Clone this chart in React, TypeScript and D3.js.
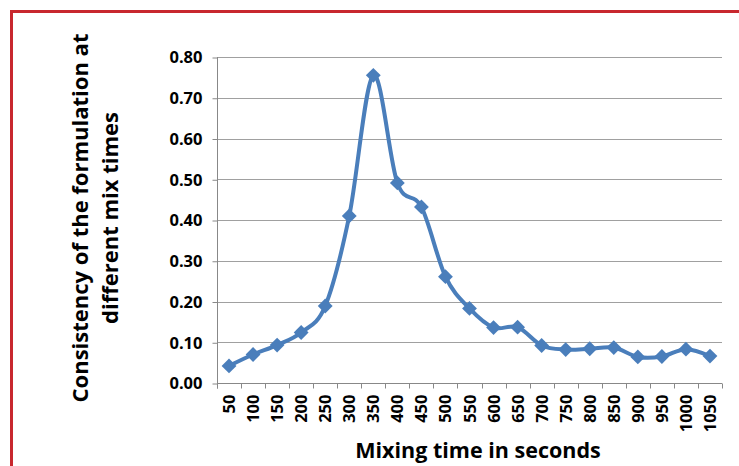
import * as d3 from 'd3';
import { useEffect, useRef } from 'react';

// mixing times (s) and consistency
const mixTimes = ['50', '100', '150', '200', '250', '300', '350', '400', '450', '500', '550',
  '600', '650', '700', '750', '800', '850', '900', '950', '1000', '1050'];
const consistency = [0.042, 0.07, 0.093, 0.124, 0.189, 0.41, 0.755, 0.491, 0.432, 0.261, 0.183,
  0.136, 0.137, 0.092, 0.082, 0.084, 0.087, 0.064, 0.065, 0.083, 0.066];
const yTicks = [0, 0.1, 0.2, 0.3, 0.4, 0.5, 0.6, 0.7, 0.8];
const yTitle = ['Consistency of the formulation at', 'different mix times'];
const xTitle = 'Mixing time in seconds';

const FONT = '"Open Sans", Calibri, sans-serif';
const BLUE = '#4a7ebb';

const App = () => {
  const ref = useRef<SVGSVGElement>(null);

  useEffect(() => {
    const svg = d3.select(ref.current);
    svg.selectAll('*').remove();

    const left = 217, right = 722, top = 57, bottom = 383;

    const x = d3.scaleBand().domain(mixTimes).range([left, right]);
    const y = d3.scaleLinear().domain([0, 0.8]).range([bottom, top]);

    // red frame
    svg.append('rect')
      .attr('x', 11.5).attr('y', 11.5)
      .attr('width', 760).attr('height', 500)
      .attr('fill', 'none')
      .attr('stroke', '#c8282e')
      .attr('stroke-width', 3);

    // gridlines
    svg.append('g')
      .selectAll('line')
      .data(yTicks.slice(1))
      .enter()
      .append('line')
      .attr('x1', left).attr('x2', right)
      .attr('y1', (d) => Math.round(y(d)) + 0.5)
      .attr('y2', (d) => Math.round(y(d)) + 0.5)
      .attr('stroke', '#a0a0a0')
      .attr('stroke-width', 1);

    // y axis
    const yAxis = svg.append('g')
      .attr('transform', 'translate(' + (left + 0.5) + ',0.5)')
      .call(d3.axisLeft(y).tickValues(yTicks).tickFormat(d3.format('.2f')).tickSize(5).tickPadding(10));
    yAxis.select('.domain').attr('stroke', '#888').attr('d', 'M0,' + (top - 0.5) + 'V' + (bottom + 5));
    yAxis.selectAll('.tick line').attr('stroke', '#888');
    yAxis.selectAll('.tick text')
      .attr('font-family', FONT)
      .attr('font-weight', 'bold')
      .attr('font-size', 16.5)
      .attr('fill', '#000');

    // x axis
    const xAxis = svg.append('g')
      .attr('transform', 'translate(0,' + (bottom + 0.5) + ')');
    xAxis.append('line')
      .attr('x1', left).attr('x2', right)
      .attr('stroke', '#888');
    xAxis.selectAll('line.tick')
      .data(mixTimes.concat(['end']))
      .enter()
      .append('line')
      .attr('class', 'tick')
      .attr('x1', (d, i) => Math.round(left + i * x.step()) + 0.5)
      .attr('x2', (d, i) => Math.round(left + i * x.step()) + 0.5)
      .attr('y1', 0).attr('y2', 5)
      .attr('stroke', '#888');
    xAxis.selectAll('text')
      .data(mixTimes)
      .enter()
      .append('text')
      .attr('transform', (d) => 'translate(' + ((x(d) as number) + x.bandwidth() / 2 + 6) + ',11) rotate(-90)')
      .attr('text-anchor', 'end')
      .attr('font-family', FONT)
      .attr('font-weight', 'bold')
      .attr('font-size', 16.5)
      .text((d) => d);

    // line
    const pts = mixTimes.map((m, i) => [(x(m) as number) + x.bandwidth() / 2, y(consistency[i])] as [number, number]);
    svg.append('path')
      .datum(pts)
      .attr('d', d3.line().curve(d3.curveCatmullRom.alpha(0)))
      .attr('fill', 'none')
      .attr('stroke', BLUE)
      .attr('stroke-width', 4)
      .attr('stroke-linejoin', 'round');

    svg.append('g')
      .selectAll('path')
      .data(pts)
      .enter()
      .append('path')
      .attr('transform', (d) => 'translate(' + d[0] + ',' + d[1] + ')')
      .attr('d', d3.symbol().type(d3.symbolDiamond2).size(140))
      .attr('fill', BLUE);

    // axis titles
    const yt = svg.append('text')
      .attr('transform', 'translate(88,218) rotate(-90)')
      .attr('text-anchor', 'middle')
      .attr('font-family', FONT)
      .attr('font-weight', 'bold')
      .attr('font-size', 22);
    yt.append('tspan').attr('x', 0).attr('dy', 0).text(yTitle[0]);
    yt.append('tspan').attr('x', 0).attr('dy', 30).text(yTitle[1]);

    svg.append('text')
      .attr('x', 478).attr('y', 458)
      .attr('text-anchor', 'middle')
      .attr('font-family', FONT)
      .attr('font-weight', 'bold')
      .attr('font-size', 21.5)
      .text(xTitle);
  }, []);

  return (
    <svg ref={ref} width={739} height={466}
      style={{ position: 'absolute', left: 0, top: 0, background: '#fff' }} />
  );
};

export default App;
